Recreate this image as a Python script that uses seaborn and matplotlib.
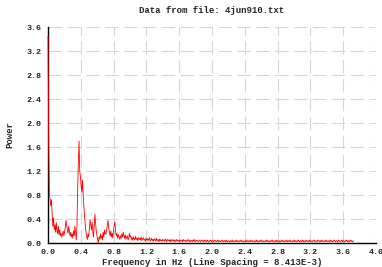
import numpy as np
import pandas as pd
import matplotlib
matplotlib.use('Agg')
import matplotlib.pyplot as plt
import seaborn as sns

# spectrum, one value per frequency bin
line_spacing = 8.413e-3
power = [
    3.45, 1.70, 0.78, 0.74, 0.62, 0.72, 0.48, 0.28, 0.42, 0.22, 0.30, 0.18,
    0.34, 0.20, 0.15, 0.28, 0.14, 0.22, 0.12, 0.16, 0.10, 0.14, 0.20, 0.12,
    0.18, 0.26, 0.38, 0.30, 0.22, 0.16, 0.28, 0.20, 0.12, 0.18, 0.10, 0.15,
    0.08, 0.20, 0.12, 0.28, 0.16, 0.05, 0.30, 0.90, 1.35, 1.70, 1.20, 1.10,
    0.95, 0.85, 1.05, 0.80, 0.60, 0.45, 0.30, 0.18, 0.12, 0.06, 0.15, 0.10,
    0.25, 0.38, 0.30, 0.22, 0.35, 0.18, 0.10, 0.28, 0.48, 0.32, 0.20, 0.12,
    0.05, 0.00, 0.10, 0.06, 0.15, 0.08, 0.12, 0.05, 0.18, 0.10, 0.22, 0.15,
    0.15, 0.22, 0.30, 0.38, 0.25, 0.18, 0.12, 0.20, 0.10, 0.16, 0.08, 0.22,
    0.30, 0.35, 0.20, 0.12, 0.16, 0.08, 0.14, 0.10, 0.06, 0.12, 0.08, 0.15,
    0.10, 0.18, 0.12, 0.08, 0.14, 0.06, 0.10, 0.12, 0.05, 0.08, 0.16, 0.10,
    0.12, 0.06, 0.09, 0.04, 0.10, 0.07, 0.05, 0.11, 0.06, 0.08, 0.04, 0.09,
    0.06, 0.08, 0.05, 0.10, 0.04, 0.07, 0.09, 0.05, 0.06, 0.03, 0.08, 0.05,
    0.07, 0.04, 0.06, 0.09, 0.03, 0.05, 0.08, 0.04, 0.06, 0.03, 0.07, 0.05,
    0.04, 0.08, 0.03, 0.06, 0.05, 0.02, 0.07, 0.04, 0.05, 0.03, 0.06, 0.04,
    0.05, 0.03, 0.07, 0.04, 0.02, 0.06, 0.04, 0.05, 0.03, 0.06, 0.02, 0.05,
    0.04, 0.06, 0.03, 0.05, 0.02, 0.04, 0.06, 0.03, 0.05, 0.04, 0.02, 0.05,
    0.03, 0.05, 0.04, 0.02, 0.06, 0.03, 0.04, 0.05, 0.02, 0.04, 0.03, 0.06,
    0.04, 0.02, 0.05, 0.03, 0.04, 0.02, 0.05, 0.03, 0.06, 0.02, 0.04, 0.03,
    0.05, 0.03, 0.02, 0.04, 0.05, 0.02, 0.03, 0.05, 0.03, 0.04, 0.02, 0.05,
    0.03, 0.04, 0.02, 0.05, 0.03, 0.02, 0.04, 0.03, 0.05, 0.02, 0.04, 0.03,
    0.02, 0.05, 0.03, 0.04, 0.02, 0.03, 0.05, 0.02, 0.04, 0.03, 0.02, 0.04,
    0.03, 0.05, 0.02, 0.03, 0.04, 0.02, 0.05, 0.03, 0.02, 0.04, 0.03, 0.02,
    0.04, 0.02, 0.03, 0.05, 0.02, 0.03, 0.04, 0.02, 0.03, 0.05, 0.02, 0.04,
    0.03, 0.02, 0.04, 0.03, 0.05, 0.02, 0.03, 0.04, 0.02, 0.03, 0.04, 0.02,
    0.05, 0.03, 0.02, 0.04, 0.03, 0.02, 0.05, 0.03, 0.04, 0.02, 0.03, 0.04,
    0.02, 0.03, 0.05, 0.02, 0.04, 0.03, 0.02, 0.04, 0.03, 0.05, 0.02, 0.03,
    0.04, 0.02, 0.03, 0.04, 0.02, 0.05, 0.03, 0.02, 0.04, 0.03, 0.02, 0.04,
    0.03, 0.05, 0.02, 0.03, 0.04, 0.02, 0.03, 0.05, 0.02, 0.04, 0.03, 0.02,
    0.04, 0.03, 0.02, 0.05, 0.03, 0.04, 0.02, 0.03, 0.04, 0.02, 0.05, 0.03,
    0.02, 0.04, 0.03, 0.05, 0.02, 0.03, 0.04, 0.02, 0.03, 0.05, 0.02, 0.04,
    0.03, 0.02, 0.04, 0.05, 0.02, 0.03, 0.04, 0.02, 0.03, 0.05, 0.02, 0.04,
    0.03, 0.02, 0.05, 0.03, 0.04, 0.02, 0.03, 0.05, 0.02, 0.04, 0.03, 0.02,
    0.04, 0.03, 0.05, 0.02, 0.04, 0.03, 0.02, 0.05, 0.03, 0.04, 0.02, 0.03,
    0.05, 0.02, 0.04, 0.03, 0.02, 0.04, 0.03, 0.05, 0.02, 0.03, 0.04, 0.02,
    0.03, 0.05, 0.02, 0.04, 0.03, 0.02, 0.04, 0.05, 0.03, 0.02, 0.04, 0.03,
    0.02, 0.05, 0.03, 0.04, 0.02, 0.03, 0.05, 0.02, 0.04, 0.03, 0.02, 0.04,
    0.03, 0.05, 0.02, 0.04, 0.03, 0.02, 0.05, 0.03, 0.04, 0.02, 0.03, 0.04,
]
x_ticks = [0.0, 0.4, 0.8, 1.2, 1.6, 2.0, 2.4, 2.8, 3.2, 3.6, 4.0]
y_ticks = [0.0, 0.4, 0.8, 1.2, 1.6, 2.0, 2.4, 2.8, 3.2, 3.6]

df = pd.DataFrame({'freq': np.arange(len(power)) * line_spacing, 'power': power})

sns.set_style('white')
plt.rcParams['font.family'] = ['Liberation Mono', 'DejaVu Sans Mono']
plt.rcParams['font.weight'] = 'bold'

fig = plt.figure(figsize=(3.82, 2.67), dpi=100)
ax = fig.add_axes([48 / 382, 24 / 267, 328 / 382, 216 / 267])

sns.lineplot(data=df, x='freq', y='power', color='#ff0000', linewidth=0.6, ax=ax)
for ln in ax.lines:
    ln.set_zorder(3)
    ln.set_clip_on(False)

ax.set_xlim(0, 4.0)
ax.set_ylim(0, 3.6)
ax.set_xticks(x_ticks)
ax.set_yticks(y_ticks)
ax.set_xticklabels([f'{t:.1f}' for t in x_ticks], fontsize=6, fontweight='bold')
ax.set_yticklabels([f'{t:.1f}' for t in y_ticks], fontsize=6, fontweight='bold')
ax.tick_params(direction='inout', length=5, width=1, color='black', pad=2)
ax.grid(True, color='#d6d6d6', linestyle=(0, (12, 5)), linewidth=0.8)
ax.set_axisbelow(True)

for side in ['top', 'right']:
    ax.spines[side].set_visible(False)
for side in ['left', 'bottom']:
    ax.spines[side].set_color('black')
    ax.spines[side].set_linewidth(1)

ax.set_title('Data from file: 4jun910.txt', fontsize=6.5, fontweight='bold', pad=10)
ax.set_xlabel('Frequency in Hz (Line Spacing = 8.413E-3)', fontsize=6.5, fontweight='bold', labelpad=1)
ax.set_ylabel('Power', fontsize=6.5, fontweight='bold', labelpad=9)

fig.savefig('out.png', dpi=100)
